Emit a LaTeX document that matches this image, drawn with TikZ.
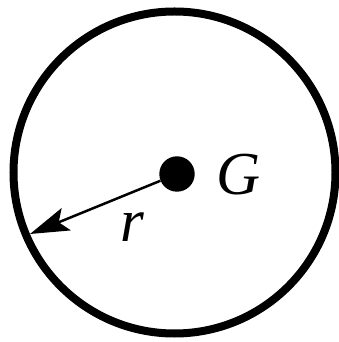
\documentclass[tikz,border=0pt]{standalone}
\usepackage{fontspec}
\setmainfont{Liberation Serif}
\usetikzlibrary{arrows.meta}
\tikzset{
  rim/.style={circle, draw, line width=8pt, minimum size=322pt, inner sep=0pt},
  massdot/.style={circle, fill, minimum size=35.4pt, inner sep=0pt},
  lbl/.style={anchor=base, inner sep=0pt, font=\fontsize{61}{72}\selectfont\itshape},
  radius arrow/.style={line width=2.5pt, -{Stealth[length=39pt, width=24pt, inset=8pt]}}
}
\begin{document}
\begin{tikzpicture}[x=1pt, y=1pt]
  \useasboundingbox (0,0) rectangle (339,342);
  \node[rim] (rim) at (174.5,169.5) {};
  \node[massdot] (g) at (177,168) {};
  \coordinate (tip) at (30,108);
  \draw[radius arrow] (g) -- (tip);
  \node[lbl] (glabel) at (238.8,147) {G};
  \node[lbl] (rlabel) at (132.5,100.3) {r};
\end{tikzpicture}
\end{document}
